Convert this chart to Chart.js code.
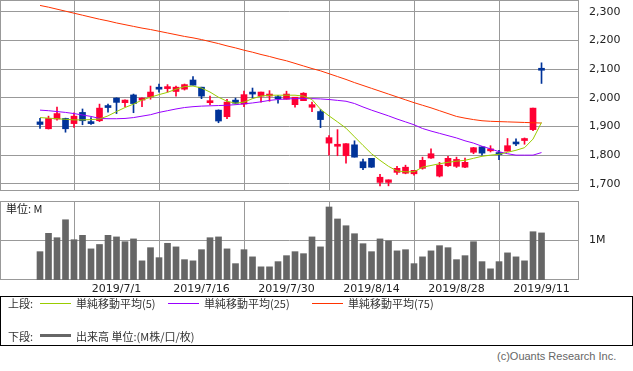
<!DOCTYPE html>
<html>
<head>
<meta charset="utf-8">
<script src="https://cdn.jsdelivr.net/npm/chart.js@4.4.1/dist/chart.umd.min.js"></script>
<style>
body { margin: 0; background: #fff; width: 633px; height: 371px; position: relative; overflow: hidden; font-family: "Noto Sans CJK JP", sans-serif; }
canvas { position: absolute; left: 0; }
#price { top: 0; }
#vol { top: 194px; }
#unit { position: absolute; left: 6px; top: 201px; font-size: 11px; line-height: 14px; color: #222; }
#legend { position: absolute; left: 0; top: 296px; width: 631px; height: 48px; border: 1px solid #000; font-size: 11px; color: #333; }
#legend span { position: absolute; line-height: 14px; white-space: nowrap; }
#legend i { position: absolute; height: 1px; width: 31px; }
#copy { position: absolute; left: 497px; top: 350px; font: 11px "Liberation Sans", sans-serif; color: #666; }
</style>
</head>
<body>
<canvas id="price" width="633" height="192"></canvas>
<canvas id="vol" width="633" height="102"></canvas>
<div id="unit">単位: M</div>
<div id="legend">
  <span style="left:7px;top:-1px">上段:</span>
  <i style="left:39px;top:6px;background:#99cc00"></i>
  <span style="left:75px;top:-1px">単純移動平均(5)</span>
  <i style="left:167px;top:6px;background:#9900ff"></i>
  <span style="left:203px;top:-1px">単純移動平均(25)</span>
  <i style="left:311px;top:6px;background:#ff3300"></i>
  <span style="left:347px;top:-1px">単純移動平均(75)</span>
  <span style="left:7px;top:32px">下段:</span>
  <i style="left:39px;top:37px;height:3px;background:#666"></i>
  <span style="left:75px;top:32px">出来高 単位:(M株/口/枚)</span>
</div>
<div id="copy">(c)Ouants Research Inc.</div>
<script>
// trading days 2019/6/18 - 2019/9/11
var dates = ["2019/6/18","2019/6/19","2019/6/20","2019/6/21","2019/6/24","2019/6/25","2019/6/26","2019/6/27","2019/6/28",
  "2019/7/1","2019/7/2","2019/7/3","2019/7/4","2019/7/5","2019/7/8","2019/7/9","2019/7/10","2019/7/11","2019/7/12",
  "2019/7/16","2019/7/17","2019/7/18","2019/7/19","2019/7/22","2019/7/23","2019/7/24","2019/7/25","2019/7/26","2019/7/29",
  "2019/7/30","2019/7/31","2019/8/1","2019/8/2","2019/8/5","2019/8/6","2019/8/7","2019/8/8","2019/8/9","2019/8/13",
  "2019/8/14","2019/8/15","2019/8/16","2019/8/19","2019/8/20","2019/8/21","2019/8/22","2019/8/23","2019/8/26","2019/8/27",
  "2019/8/28","2019/8/29","2019/8/30","2019/9/2","2019/9/3","2019/9/4","2019/9/5","2019/9/6","2019/9/9","2019/9/10","2019/9/11"];
var tickDates = ["2019/7/1","2019/7/16","2019/7/30","2019/8/14","2019/8/28","2019/9/11"];
var priceTicks = [1700, 1800, 1900, 2000, 2100, 2200, 2300];

var open  = [1916,1892,1926,1928,1910,1949,1914,1920,1972,1999,1983,2010,1992,2003,2032,2032,2022,2030,2062,2037,
             1983,1957,1934,1992,1978,2018,2006,2006,2002,1995,1976,1990,1967,1952,1842,1831,1798,1836,1777,1789,
             1705,1705,1740,1737,1735,1754,1790,1727,1763,1761,1758,1810,1829,1815,1809,1814,1846,1851,1889,2103];
var high  = [1928,1936,1968,1929,1948,1961,1931,1978,1978,2000,1993,2013,2000,2041,2048,2046,2041,2048,2074,2037,
             2006,1958,1995,1999,2023,2034,2020,2025,2009,2023,2002,2018,1985,1959,1868,1889,1840,1850,1786,1789,
             1733,1714,1761,1765,1747,1793,1822,1775,1796,1793,1790,1827,1830,1833,1817,1858,1857,1860,1964,2122];
var low   = [1893,1891,1922,1880,1897,1906,1907,1917,1950,1945,1969,1948,1969,1995,2020,2020,2006,2027,2044,1997,
             1976,1913,1927,1978,1969,1999,1985,1988,1981,1995,1967,1990,1952,1896,1800,1798,1772,1793,1749,1757,
             1693,1693,1733,1735,1730,1751,1789,1724,1761,1757,1756,1805,1800,1811,1784,1814,1833,1838,1885,2050];
var close = [1907,1928,1945,1892,1936,1920,1910,1964,1966,1984,1992,1980,1999,2020,2030,2039,2037,2046,2044,2006,
             1990,1919,1985,1981,2011,2013,2020,2013,1997,2013,2002,2016,1976,1924,1861,1838,1840,1793,1756,1758,
             1723,1714,1754,1758,1747,1782,1805,1765,1789,1785,1775,1826,1807,1822,1802,1833,1839,1857,1964,2096];

var ma5  = [1931,1929,1927,1925,1923,1923,1924,1926,1937,1952,1966,1978,1992,2002,2011,2019,2030,2039,2041,2034,
            2020,2002,1988,1981,1985,1997,2006,2009,2009,2009,2009,2006,1994,1960,1937,1916,1894,1864,1834,1805,
            1782,1761,1745,1742,1742,1758,1764,1770,1775,1779,1782,1789,1796,1800,1803,1810,1817,1826,1856,1914];
var ma25 = [1957,1955,1952,1949,1945,1940,1935,1928,1927,1927,1928,1931,1936,1941,1949,1955,1961,1966,1969,1971,
            1972,1973,1974,1976,1979,1982,1986,1991,1994,1996,1997,1997,1997,1996,1994,1991,1988,1980,1968,1957,
            1947,1937,1926,1916,1906,1893,1884,1876,1868,1860,1850,1842,1831,1822,1812,1805,1800,1800,1800,1809];
var ma75 = [2322,2316,2309,2302,2295,2288,2281,2274,2268,2261,2255,2249,2243,2238,2232,2226,2220,2214,2209,2203,
            2196,2189,2181,2174,2166,2159,2151,2144,2136,2129,2120,2111,2102,2094,2084,2074,2064,2053,2043,2033,
            2023,2013,2003,1993,1983,1974,1965,1955,1945,1935,1929,1924,1920,1918,1917,1916,1915,1914,1913,1912];

var volume = [0.71,1.17,1.06,1.51,1.01,1.12,0.78,0.89,1.12,1.08,0.96,1.03,0.48,0.81,0.56,0.92,0.83,0.51,0.48,0.76,
              1.06,1.08,0.78,0.41,0.76,0.58,0.33,0.33,0.46,0.61,0.71,0.66,1.08,0.83,1.83,1.53,1.36,1.16,0.91,0.71,
              1.03,0.98,0.73,0.76,0.41,0.58,0.73,0.86,0.81,0.51,0.61,0.96,0.46,0.28,0.46,0.68,0.58,0.48,1.21,1.18];

var tickIdx = tickDates.map(function (d) { return dates.indexOf(d); });
var xMin = -4.706, xMax = 63.41;
var candleColors = open.map(function (o, i) { return close[i] >= o ? '#ff0033' : '#003399'; });

function pts(arr) { return arr.map(function (v, i) { return { x: i, y: v }; }); }

var frame = {
  id: 'frame',
  beforeDatasetsDraw: function (chart) {
    var a = chart.chartArea, ctx = chart.ctx;
    ctx.save();
    ctx.strokeStyle = '#999';
    ctx.lineWidth = 1;
    ctx.strokeRect(Math.round(a.left) + 0.5, Math.round(a.top) + 0.5, Math.round(a.right - a.left) - 1, Math.round(a.bottom - a.top) - 1);
    ctx.restore();
  }
};

Chart.defaults.font.family = "DejaVu Sans";
Chart.defaults.color = '#222';

new Chart(document.getElementById('price'), {
  type: 'bar',
  data: {
    datasets: [
      { type: 'line', data: pts(ma5), borderColor: '#99cc00', borderWidth: 1, pointRadius: 0, order: 0 },
      { type: 'line', data: pts(ma25), borderColor: '#9900ff', borderWidth: 1, pointRadius: 0, order: 0 },
      { type: 'line', data: pts(ma75), borderColor: '#ff3300', borderWidth: 1, pointRadius: 0, order: 0 },
      { data: open.map(function (o, i) { return { x: i, y: [o, close[i]] }; }),
        backgroundColor: candleColors, barThickness: 6, minBarLength: 2, grouped: false, order: 1 },
      { data: low.map(function (l, i) { return { x: i, y: [l, high[i]] }; }),
        backgroundColor: candleColors, barThickness: 1, grouped: false, order: 2 }
    ]
  },
  options: {
    responsive: false, animation: false, events: [],
    layout: { padding: { top: 0, left: 0, right: 0, bottom: 1 } },
    plugins: { legend: { display: false }, tooltip: { enabled: false } },
    scales: {
      x: {
        type: 'linear', min: xMin, max: xMax, offset: false,
        grid: { color: '#999', drawTicks: false }, border: { display: false },
        ticks: { display: false },
        afterBuildTicks: function (s) { s.ticks = tickIdx.map(function (v) { return { value: v }; }); },
        afterFit: function (s) { s.height = 0; s.paddingLeft = 0; s.paddingRight = 0; }
      },
      y: {
        position: 'right', min: 1675, max: 2341,
        grid: { color: '#999', drawTicks: false }, border: { display: false },
        ticks: { padding: 10, font: { size: 11 }, callback: function (v) { return v.toLocaleString('en-US'); } },
        afterBuildTicks: function (s) { s.ticks = priceTicks.map(function (v) { return { value: v }; }); },
        afterFit: function (s) { s.width = 54; s.paddingTop = 0; s.paddingBottom = 0; }
      }
    }
  },
  plugins: [frame]
});

new Chart(document.getElementById('vol'), {
  type: 'bar',
  data: {
    datasets: [
      { data: pts(volume), backgroundColor: '#666666', barThickness: 6 }
    ]
  },
  options: {
    responsive: false, animation: false, events: [],
    layout: { padding: { top: 7, left: 0, right: 0, bottom: 0 } },
    plugins: { legend: { display: false }, tooltip: { enabled: false } },
    scales: {
      x: {
        type: 'linear', min: xMin, max: xMax, offset: false,
        grid: { color: '#999', drawTicks: false }, border: { display: false },
        ticks: { padding: 3, maxRotation: 0, autoSkip: false, font: { size: 11 },
          callback: function (v) { return dates[v]; } },
        afterBuildTicks: function (s) { s.ticks = tickIdx.map(function (v) { return { value: v }; }); },
        afterFit: function (s) { s.height = 16; s.paddingLeft = 0; s.paddingRight = 0; }
      },
      y: {
        position: 'right', min: 0, max: 1.98,
        grid: { color: '#999', drawTicks: false }, border: { display: false },
        ticks: { padding: 10, font: { size: 11 }, callback: function (v) { return v + 'M'; } },
        afterBuildTicks: function (s) { s.ticks = [{ value: 1 }]; },
        afterFit: function (s) { s.width = 54; s.paddingTop = 0; s.paddingBottom = 0; }
      }
    }
  },
  plugins: [frame]
});
</script>
</body>
</html>
